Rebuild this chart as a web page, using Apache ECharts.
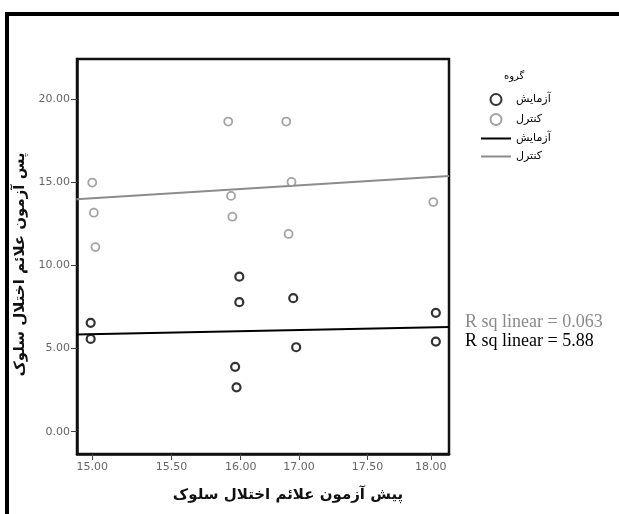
<!DOCTYPE html>
<html>
<head>
<meta charset="utf-8">
<script src="https://cdn.jsdelivr.net/npm/echarts@6/dist/echarts.min.js"></script>
<style>
  html, body { margin: 0; padding: 0; background: #fff; }
  #chart { width: 619px; height: 514px; }
</style>
</head>
<body>
<div id="chart"></div>
<script>
// printed x ticks (the printed axis is uneven, so each tick keeps its own place)
const xTickValues = [15, 15.5, 16, 17, 17.5, 18]
const xTickLabels = ['15.00', '15.50', '16.00', '17.00', '17.50', '18.00']
const xTickShare = [0.041, 0.254, 0.440, 0.597, 0.781, 0.951] // share of axis length
const yTicks = [0, 5, 10, 15, 20]

const groupNames = ['آزمایش', 'کنترل']

// [pre-test, post-test]
const expPoints = [
  [14.99, 6.55], [14.99, 5.58],
  [15.99, 9.32], [15.99, 7.79], [15.96, 3.90], [15.97, 2.67],
  [16.90, 8.03], [16.95, 5.08],
  [18.04, 7.15], [18.04, 5.42]
]
const ctrlPoints = [
  [15.00, 14.98], [15.01, 13.17], [15.02, 11.10],
  [15.91, 18.65], [15.93, 14.18], [15.94, 12.93],
  [16.78, 18.65], [16.87, 15.02], [16.82, 11.89],
  [18.02, 13.81]
]

// fit lines, read at the left and right edges of the plot
const fitX = [14.90, 18.145]
const fitExp = [5.84, 6.30]
const fitCtrl = [13.98, 15.38]

const rsqLabels = ['R sq linear = 0.063', 'R sq linear = 5.88']

// map a pre-test value onto the uneven printed axis
const toAxis = (v) => {
  const n = xTickValues.length
  let i = 0
  if (v >= xTickValues[n - 1]) i = n - 2
  else while (i < n - 2 && v > xTickValues[i + 1]) i++
  const t = (v - xTickValues[i]) / (xTickValues[i + 1] - xTickValues[i])
  return xTickShare[i] + t * (xTickShare[i + 1] - xTickShare[i])
}

const tickLabel = (v) => {
  let best = 0
  xTickShare.forEach((s, i) => { if (Math.abs(s - v) < Math.abs(xTickShare[best] - v)) best = i })
  return xTickLabels[best]
}

const lineIcon = 'path://M0,0 L30,0 L30,2 L0,2 Z'
const frameLine = { show: true, onZero: false, lineStyle: { color: '#111', width: 2.5 } }

const chart = echarts.init(document.getElementById('chart'))
const option = {
  animation: false,
  textStyle: { fontFamily: 'DejaVu Sans' },
  title: {
    text: 'گروه',
    left: 499,
    top: 66,
    textStyle: { fontSize: 10, fontWeight: 'normal', color: '#000' }
  },
  legend: {
    orient: 'vertical',
    left: 476,
    top: 88,
    itemWidth: 30,
    itemHeight: 11,
    itemGap: 7,
    textStyle: { fontSize: 11, color: '#000' },
    data: [
      { name: groupNames[0] },
      { name: groupNames[1] },
      { name: groupNames[0] + '\u200f', icon: lineIcon },
      { name: groupNames[1] + '\u200f', icon: lineIcon }
    ]
  },
  grid: {
    left: 77,
    top: 59,
    width: 372,
    height: 395,
    show: true,
    borderColor: '#111',
    borderWidth: 2.5,
    backgroundColor: 'transparent'
  },
  xAxis: {
    type: 'value',
    min: 0,
    max: 1,
    name: 'پیش آزمون علائم اختلال سلوک',
    nameLocation: 'middle',
    nameGap: 34,
    nameTextStyle: { fontSize: 15, fontWeight: 'bold', color: '#111', padding: [0, 0, 0, 50] },
    axisLine: frameLine,
    splitLine: { show: false },
    axisTick: { show: true, length: 6, customValues: xTickShare, lineStyle: { color: '#444', width: 1 } },
    axisLabel: { customValues: xTickShare, formatter: tickLabel, color: '#666', fontSize: 11, margin: 8 }
  },
  yAxis: {
    type: 'value',
    min: -1.34,
    max: 22.41,
    name: 'پس آزمون علائم اختلال سلوک',
    nameLocation: 'middle',
    nameGap: 47,
    nameTextStyle: { fontSize: 15, fontWeight: 'bold', color: '#111', padding: [0, 16, 0, 0] },
    axisLine: frameLine,
    splitLine: { show: false },
    axisTick: { show: true, length: 6, customValues: yTicks, lineStyle: { color: '#444', width: 1 } },
    axisLabel: { customValues: yTicks, formatter: (v) => v.toFixed(2), color: '#666', fontSize: 11, margin: 7 }
  },
  series: [
    {
      name: groupNames[0],
      type: 'scatter',
      symbol: 'circle',
      symbolSize: 8,
      color: '#000',
      itemStyle: { color: '#fff', borderColor: '#000', borderWidth: 2.2 },
      data: expPoints.map(p => [toAxis(p[0]), p[1]]),
      z: 3
    },
    {
      name: groupNames[1],
      type: 'scatter',
      symbol: 'circle',
      symbolSize: 8,
      color: '#8c8c8c',
      itemStyle: { color: '#fff', borderColor: '#8c8c8c', borderWidth: 1.8 },
      data: ctrlPoints.map(p => [toAxis(p[0]), p[1]]),
      z: 3
    },
    {
      name: groupNames[0] + '\u200f',
      type: 'line',
      symbol: 'none',
      color: '#000',
      lineStyle: { color: '#000', width: 2 },
      data: fitX.map((x, i) => [toAxis(x), fitExp[i]])
    },
    {
      name: groupNames[1] + '\u200f',
      type: 'line',
      symbol: 'none',
      color: '#8c8c8c',
      lineStyle: { color: '#8c8c8c', width: 2 },
      data: fitX.map((x, i) => [toAxis(x), fitCtrl[i]])
    }
  ],
  graphic: [
    {
      type: 'rect',
      shape: { x: 7, y: 14, width: 700, height: 600 },
      style: { fill: 'none', stroke: '#000', lineWidth: 4 },
      silent: true
    },
    {
      type: 'text',
      left: 465,
      top: 313,
      style: { text: rsqLabels[0], fill: '#8a8a8a', font: '18px "Liberation Serif"' }
    },
    {
      type: 'text',
      left: 465,
      top: 332,
      style: { text: rsqLabels[1], fill: '#000', font: '18px "Liberation Serif"' }
    }
  ]
}
chart.setOption(option)
</script>
</body>
</html>
